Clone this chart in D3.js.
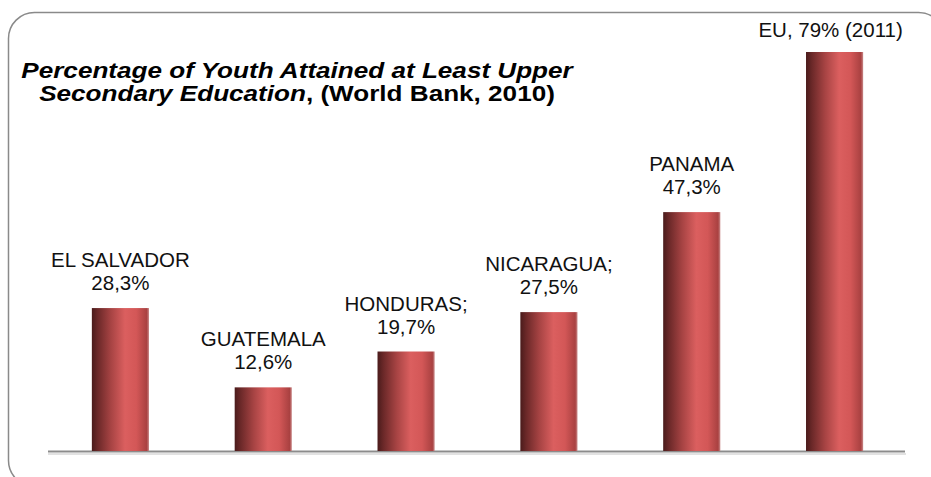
<!DOCTYPE html>
<html>
<head>
<meta charset="utf-8">
<script src="https://cdn.jsdelivr.net/npm/d3@7"></script>
<style>
  html, body { margin: 0; padding: 0; background: #fff; }
  svg { display: block; }
  text { font-family: "Liberation Sans", Arial, Helvetica, sans-serif; }
</style>
</head>
<body>
<svg id="chart" width="931" height="477"></svg>
<script>
// Share of youth with at least upper secondary education
const categories = ["EL SALVADOR", "GUATEMALA", "HONDURAS", "NICARAGUA", "PANAMA", "EU"];
const values = [28.3, 12.6, 19.7, 27.5, 47.3, 79];
const labelSeparators = ["", "", ";", ";", "", ","];
const labelSuffixes = ["", "", "", "", "", " (2011)"];
const singleLine = [false, false, false, false, false, true];
const titleLine1 = "Percentage of Youth Attained at Least Upper";
const titleLine2Italic = "Secondary Education";
const titleLine2Rest = ", (World Bank, 2010)";

const W = 931, H = 477;
const svg = d3.select("#chart");

// rounded frame (runs past the right and bottom edges)
svg.append("rect")
  .attr("x", 8.5).attr("y", 12.5)
  .attr("width", 936).attr("height", 474)
  .attr("rx", 26).attr("ry", 26)
  .attr("fill", "none")
  .attr("stroke", "#8a8a8a")
  .attr("stroke-width", 1.5);

const x = d3.scaleBand()
  .domain(categories)
  .range([49, 906])
  .paddingInner(0.6)
  .paddingOuter(0.3);

const y = d3.scaleLinear()
  .domain([0, 79])
  .range([451, 52]);

// cylinder-style shading across each bar
const defs = svg.append("defs");
const grad = defs.append("linearGradient")
  .attr("id", "barShade")
  .attr("x1", "0%").attr("x2", "100%")
  .attr("y1", "0%").attr("y2", "0%");
[
  [0, "#4a1b1b"],
  [0.1, "#6a2828"],
  [0.33, "#a64343"],
  [0.58, "#db5f5f"],
  [0.78, "#d35757"],
  [0.96, "#a94141"],
  [1, "#c98a8a"]
].forEach(([o, c]) => grad.append("stop").attr("offset", o).attr("stop-color", c));

// axis baseline with soft shadow
const xAxis = d3.axisBottom(x).tickSize(0).tickFormat("");
svg.append("line")
  .attr("x1", 48).attr("x2", 906)
  .attr("y1", 454).attr("y2", 454)
  .attr("stroke", "#e2e2e2").attr("stroke-width", 2);
const axisG = svg.append("g")
  .attr("transform", `translate(0,${y(0)})`)
  .call(xAxis);
axisG.select(".domain")
  .attr("d", "M48,0.5H905")
  .attr("stroke", "#8c8c8c")
  .attr("stroke-width", 2.2);

// bars
svg.append("g").selectAll("rect")
  .data(categories)
  .join("rect")
  .attr("x", d => x(d))
  .attr("y", (d, i) => y(values[i]))
  .attr("width", x.bandwidth())
  .attr("height", (d, i) => y(0) - y(values[i]))
  .attr("fill", "url(#barShade)");

// value labels
const fmt = v => (Number.isInteger(v) ? String(v) : v.toFixed(1).replace(".", ",")) + "%";
const lblG = svg.append("g");
categories.forEach((c, i) => {
  const cx = x(c) + x.bandwidth() / 2;
  const top = y(values[i]);
  const name = c + labelSeparators[i];
  const valTxt = fmt(values[i]) + labelSuffixes[i];
  const t = lblG.append("text")
    .attr("text-anchor", "middle")
    .attr("font-size", 20.5)
    .attr("fill", "#111");
  if (singleLine[i]) {
    t.attr("x", cx - 4).attr("y", top - 15).text(name + " " + valTxt);
  } else {
    t.append("tspan").attr("x", cx).attr("y", top - 41).text(name);
    t.append("tspan").attr("x", cx).attr("y", top - 18).text(valTxt);
  }
});

// title (slightly widened lettering)
const sx = 1.16, tcx = 297;
const title = svg.append("text")
  .attr("transform", `translate(${tcx},0) scale(${sx},1)`)
  .attr("text-anchor", "middle")
  .attr("font-size", 22.5)
  .attr("font-weight", "bold")
  .attr("fill", "#000");
title.append("tspan").attr("x", 0).attr("y", 78.5)
  .attr("font-style", "italic").text(titleLine1);
const l2 = title.append("tspan").attr("x", 0).attr("y", 101.5);
l2.append("tspan").attr("font-style", "italic").text(titleLine2Italic);
l2.append("tspan").text(titleLine2Rest);
</script>
</body>
</html>
